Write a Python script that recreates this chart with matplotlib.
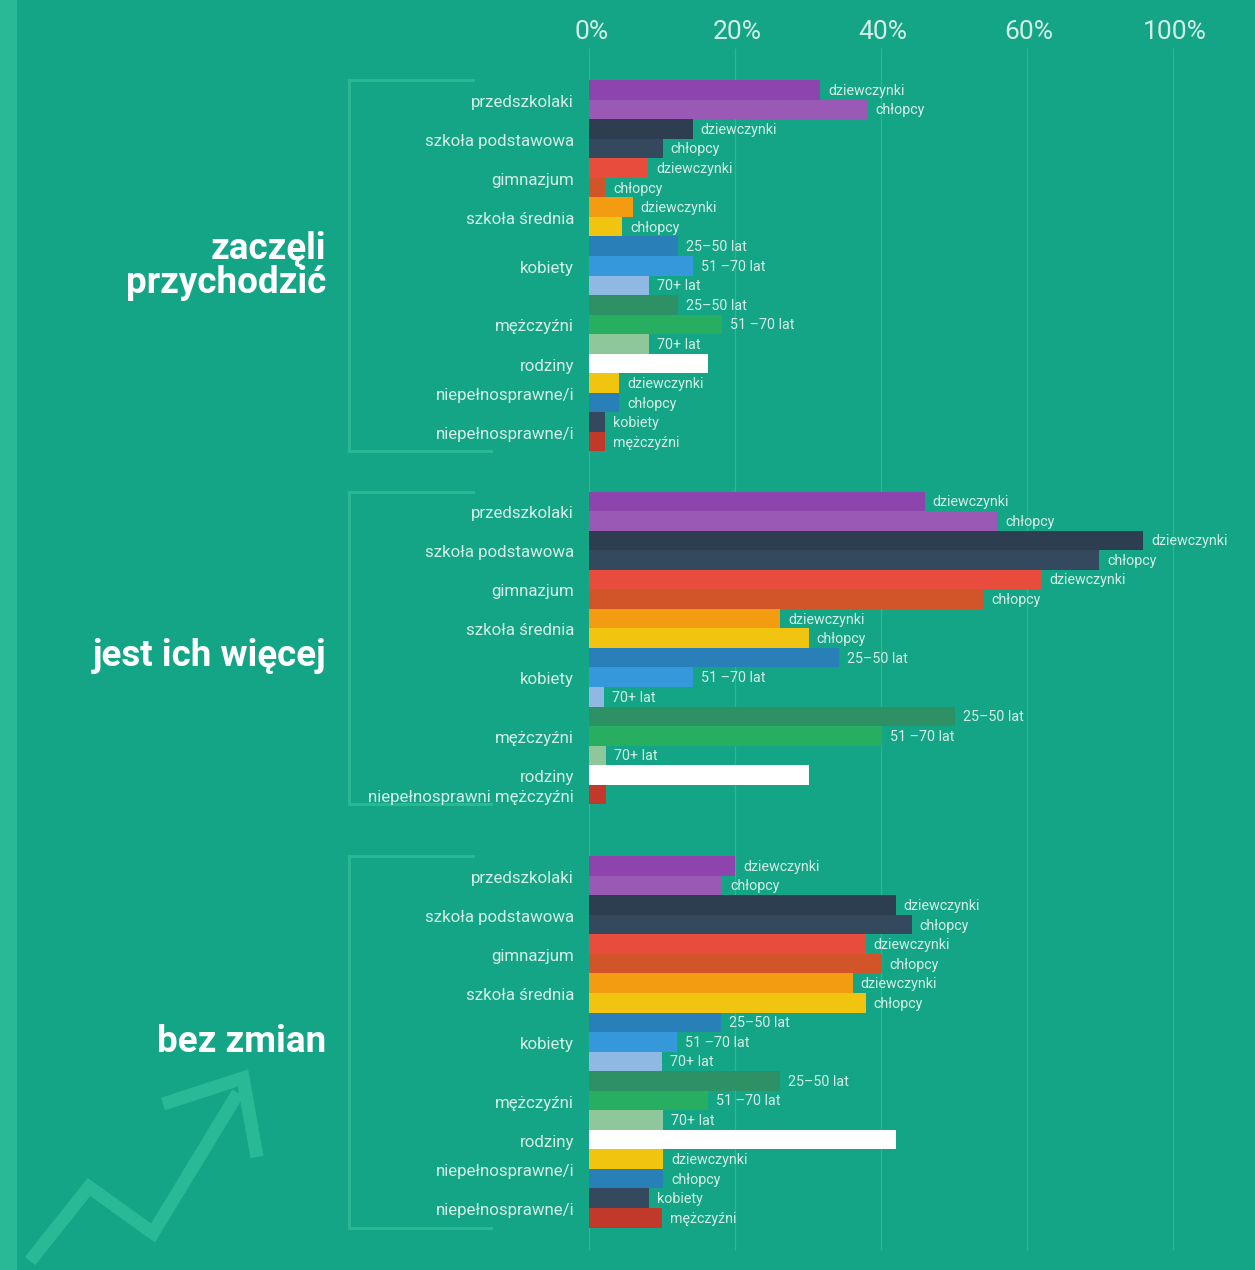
import matplotlib
matplotlib.use('Agg')
import matplotlib.pyplot as plt
from matplotlib.lines import Line2D
from matplotlib.patches import Rectangle

plt.rcParams['font.family'] = ['Roboto', 'DejaVu Sans']

# --- data -------------------------------------------------------------
titles = ['zaczęli\nprzychodzić', 'jest ich więcej', 'bez zmian']

kids = ['dziewczynki', 'chłopcy']
ages = ['25–50 lat', '51 –70 lat', '70+ lat']
adults = ['kobiety', 'mężczyźni']

groups_a = ['przedszkolaki', 'szkoła podstawowa', 'gimnazjum', 'szkoła średnia',
            'kobiety', 'mężczyźni', 'rodziny', 'niepełnosprawne/i', 'niepełnosprawne/i']
groups_b = ['przedszkolaki', 'szkoła podstawowa', 'gimnazjum', 'szkoła średnia',
            'kobiety', 'mężczyźni', 'rodziny', 'niepełnosprawni mężczyźni']

sub_a = [kids, kids, kids, kids, ages, ages, [''], kids, adults]
sub_b = [kids, kids, kids, kids, ages, ages, [''], ['']]

vals_a = [[31.7, 38.1], [14.2, 10.1], [8.1, 2.2], [6.0, 4.5],
          [12.2, 14.2, 8.2], [12.2, 18.2, 8.2], [16.3], [4.1, 4.1], [2.2, 2.2]]
vals_b = [[46.0, 55.9], [75.9, 69.9], [61.9, 54.0], [26.2, 30.1],
          [34.2, 14.2, 2.0], [50.1, 40.2, 2.3], [30.1], [2.3]]
vals_c = [[20.0, 18.2], [42.0, 44.2], [37.9, 40.1], [36.1, 37.9],
          [18.1, 12.1, 10.0], [26.1, 16.3, 10.2], [42.0], [10.2, 10.2], [8.2, 10.0]]

tick_pos = [0, 20, 40, 60, 80]
tick_lab = ['0%', '20%', '40%', '60%', '100%']

# --- style ------------------------------------------------------------
bg = '#14a586'
light = '#2ab894'
txt = '#d3eee6'

colors_a = [['#8e44ad', '#9b59b6'], ['#2c3e50', '#34495e'], ['#e74c3c', '#d2552a'],
            ['#f39c12', '#f1c40f'], ['#2980b9', '#3498db', '#8fb9e3'],
            ['#2e9166', '#27ae60', '#8ec89a'], ['#ffffff'],
            ['#f1c40f', '#2980b9'], ['#34495e', '#c0392b']]
colors_b = colors_a[:6] + [['#ffffff'], ['#c0392b']]

sections = [(groups_a, sub_a, vals_a, colors_a),
            (groups_b, sub_b, vals_b, colors_b),
            (groups_a, sub_a, vals_c, colors_a)]
starts = [0, 21.05, 39.7]
title_dy = [0, 0.4, 0]

W, H = 1255, 1270
px_pct = 7.3      # pixels per percent
x0_px = 589
bar_px = 19.55
y0_px = 80

fig = plt.figure(figsize=(W / 100, H / 100), dpi=100, facecolor=bg)
ax = fig.add_axes([0, 0, 1, 1])
ax.set_facecolor(bg)
ax.set_xlim(-x0_px / px_pct, (W - x0_px) / px_pct)
ax.set_ylim((H - y0_px) / bar_px, -y0_px / bar_px)
ax.axis('off')

# left strip
fig.patches.append(Rectangle((0, 0), 16 / W, 1, transform=fig.transFigure,
                             color='#29b996', zorder=0))

# grid + tick labels
ax.vlines(tick_pos, -1.64, 59.85, color=light, lw=0.9, zorder=0)
for p, l in zip(tick_pos, tick_lab):
    ax.text(p + 0.3, -2.45, l, ha='center', va='center', color=txt,
            fontsize=19)

def px2x(px):
    return (px - x0_px) / px_pct

for (groups, subs, vals, cols), start, title, dy in zip(sections, starts, titles, title_dy):
    slot = start
    for g, s, v, c in zip(groups, subs, vals, cols):
        ys = [slot + i + 0.5 for i in range(len(v))]
        ax.barh(ys, v, height=1.0, color=c, linewidth=0, zorder=2)
        for y, val, lab in zip(ys, v, s):
            if lab:
                ax.text(val + 1.1, y + 0.05, lab, ha='left', va='center',
                        color=txt, fontsize=10.3, zorder=3)
        ax.text(px2x(574), sum(ys) / len(ys) + 0.13, g, ha='right', va='center',
                color=txt, fontsize=12.2)
        slot += len(v)
    # bracket
    ax.plot([px2x(473), px2x(349), px2x(349), px2x(491)],
            [start, start, slot, slot], color=light, lw=2.2,
            solid_joinstyle='miter', zorder=1)
    ax.text(px2x(326), (start + slot) / 2 + dy, title, ha='right', va='center',
            color='white', fontsize=26.5, fontweight='bold', linespacing=0.92)

# decorative arrow
def fpt(x, y):
    return x / W, 1 - y / H

for pts in [[(30, 1261), (89, 1187), (153, 1233), (238, 1093)],
            [(163, 1104), (243, 1078), (257, 1157)]]:
    xs, ys = zip(*[fpt(*p) for p in pts])
    fig.lines.append(Line2D(xs, ys, transform=fig.transFigure, color='#29b996',
                            lw=9.5, solid_joinstyle='miter',
                            solid_capstyle='butt', zorder=1))

fig.savefig('out.png', dpi=100, facecolor=bg)
